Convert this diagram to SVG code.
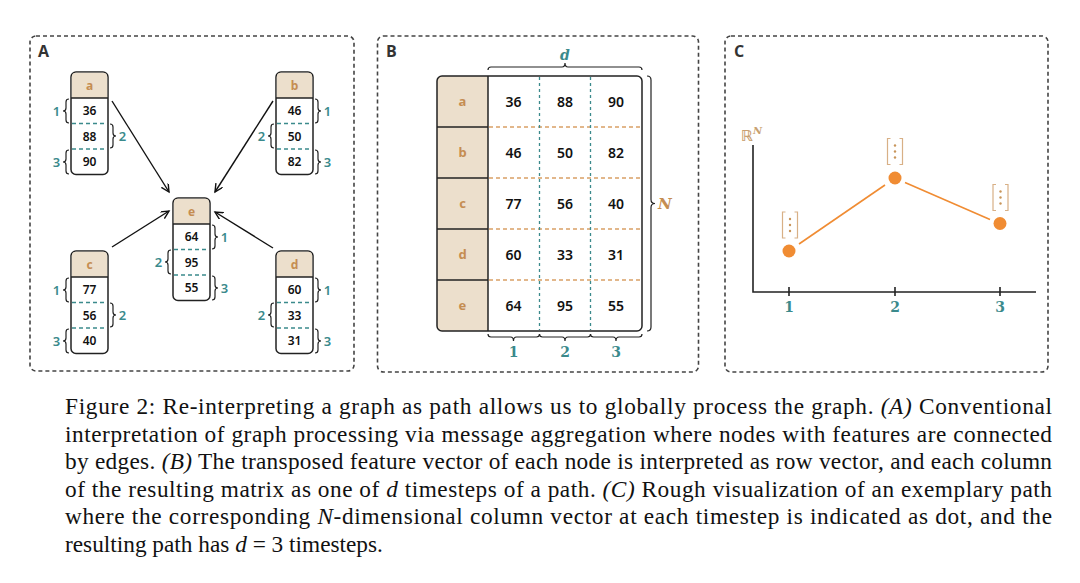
<svg xmlns="http://www.w3.org/2000/svg" width="1080" height="583" viewBox="0 0 1080 583">
<defs>
<style>
.panel{fill:none;stroke:#444;stroke-width:1.6;stroke-dasharray:4 3}
.plabel{font-family:"Open Sans","Liberation Sans",sans-serif;font-weight:700;font-size:16px;fill:#333}
.nbox{fill:#fff;stroke:#222;stroke-width:1.5}
.nhead{fill:#ecdfcc}
.sep{stroke:#222;stroke-width:1.5}
.tdash{stroke:#3b8a8c;stroke-width:1.3;stroke-dasharray:4 3}
.odash{stroke:#d9a066;stroke-width:1.3;stroke-dasharray:4 3}
.tdot{stroke:#3b8a8c;stroke-width:1.3;stroke-dasharray:3 3}
.hl{font-family:"Noto Sans","Open Sans",sans-serif;font-weight:700;font-size:12px;fill:#c58d52;text-anchor:middle}
.num{font-family:"Noto Sans","Open Sans",sans-serif;font-weight:600;font-size:12px;fill:#111;text-anchor:middle}
.mnum{font-family:"Noto Sans","Open Sans",sans-serif;font-weight:600;font-size:14px;fill:#111;text-anchor:middle}
.mhl{font-family:"Noto Sans","Open Sans",sans-serif;font-weight:700;font-size:13px;fill:#c58d52;text-anchor:middle}
.brace{fill:none;stroke:#222;stroke-width:1.2}
.bl{font-family:"Noto Sans","Open Sans",sans-serif;font-weight:600;font-size:13px;fill:#3b8a8c;text-anchor:middle}
.tl{font-family:"DejaVu Serif","Liberation Serif",serif;font-weight:700;font-size:14px;fill:#3b8a8c;text-anchor:middle}
.edge{stroke:#111;stroke-width:1.4;fill:none;marker-end:url(#ah)}
.axis{stroke:#222;stroke-width:1.6;fill:none}
.path{stroke:#f08c33;stroke-width:1.6;fill:none}
.dot{fill:#f08c33}
.vec{fill:none;stroke:#d8b086;stroke-width:1.2}
.vd{fill:#c8955a}
.cap{font-family:"Liberation Serif","Times New Roman",serif;font-size:23.3px;fill:#111}
.it{font-style:italic}
</style>
<marker id="ah" markerWidth="10" markerHeight="10" refX="8" refY="4" orient="auto" markerUnits="userSpaceOnUse">
<path d="M0,0 L8,4 L0,8" fill="none" stroke="#111" stroke-width="1.4"/>
</marker>
<g id="base">
<rect class="nbox" x="0" y="0" width="37" height="102.5" rx="5"/>
<path class="nhead" d="M0.8,26 L0.8,5 Q0.8,0.8 5,0.8 L32,0.8 Q36.2,0.8 36.2,5 L36.2,26 Z"/>
<line class="sep" x1="0" y1="26" x2="37" y2="26"/>
<line class="tdash" x1="1" y1="51.5" x2="36" y2="51.5"/>
<line class="tdash" x1="1" y1="77" x2="36" y2="77"/>
</g>
<path id="bL1" class="brace" d="M-2,27 Q-5,27 -5,30 L-5,36 Q-5,39 -8,39 Q-5,39 -5,42 L-5,48 Q-5,51 -2,51"/>
<path id="bL2" class="brace" d="M-2,52 Q-5,52 -5,55 L-5,61 Q-5,64 -8,64 Q-5,64 -5,67 L-5,73 Q-5,76 -2,76"/>
<path id="bL3" class="brace" d="M-2,78 Q-5,78 -5,81 L-5,87 Q-5,90 -8,90 Q-5,90 -5,93 L-5,99 Q-5,102 -2,102"/>
<path id="bR1" class="brace" d="M39,27 Q42,27 42,30 L42,36 Q42,39 45,39 Q42,39 42,42 L42,48 Q42,51 39,51"/>
<path id="bR2" class="brace" d="M39,52 Q42,52 42,55 L42,61 Q42,64 45,64 Q42,64 42,67 L42,73 Q42,76 39,76"/>
<path id="bR3" class="brace" d="M39,78 Q42,78 42,81 L42,87 Q42,90 45,90 Q42,90 42,93 L42,99 Q42,102 39,102"/>
</defs>
<rect width="1080" height="583" fill="#fff"/>

<g id="panelA">
<rect class="panel" x="30" y="36" width="324" height="335" rx="6"/>
<text class="plabel" x="38" y="57">A</text>
</g>
<g id="panelB">
<rect class="panel" x="377.5" y="36" width="321" height="336" rx="6"/>
<text class="plabel" x="386" y="57">B</text>
</g>
<g id="panelC">
<rect class="panel" x="725" y="36" width="323" height="336" rx="6"/>
<text class="plabel" x="734" y="57">C</text>
</g>

<g id="connectors">
<line class="edge" x1="112" y1="101" x2="169" y2="192"/>
<line class="edge" x1="273" y1="101" x2="215" y2="192"/>
<line class="edge" x1="112" y1="247" x2="169" y2="211"/>
<line class="edge" x1="273" y1="248" x2="215" y2="212"/>
</g>

<g id="node-a" transform="translate(71,72)">
<use href="#base"/>
<text class="hl" x="18.5" y="17.5">a</text>
<text class="num" x="18.5" y="43">36</text><text class="num" x="18.5" y="68.5">88</text><text class="num" x="18.5" y="94">90</text>
<use href="#bL1"/><use href="#bR2"/><use href="#bL3"/>
<text class="bl" x="-14.5" y="43.5">1</text><text class="bl" x="51.5" y="68.5">2</text><text class="bl" x="-14.5" y="94.5">3</text>
</g>
<g id="node-b" transform="translate(276,72)">
<use href="#base"/>
<text class="hl" x="18.5" y="17.5">b</text>
<text class="num" x="18.5" y="43">46</text><text class="num" x="18.5" y="68.5">50</text><text class="num" x="18.5" y="94">82</text>
<use href="#bR1"/><use href="#bL2"/><use href="#bR3"/>
<text class="bl" x="51.5" y="43.5">1</text><text class="bl" x="-14.5" y="68.5">2</text><text class="bl" x="51.5" y="94.5">3</text>
</g>
<g id="node-c" transform="translate(71,251)">
<use href="#base"/>
<text class="hl" x="18.5" y="17.5">c</text>
<text class="num" x="18.5" y="43">77</text><text class="num" x="18.5" y="68.5">56</text><text class="num" x="18.5" y="94">40</text>
<use href="#bL1"/><use href="#bR2"/><use href="#bL3"/>
<text class="bl" x="-14.5" y="43.5">1</text><text class="bl" x="51.5" y="68.5">2</text><text class="bl" x="-14.5" y="94.5">3</text>
</g>
<g id="node-e" transform="translate(173,198)">
<use href="#base"/>
<text class="hl" x="18.5" y="17.5">e</text>
<text class="num" x="18.5" y="43">64</text><text class="num" x="18.5" y="68.5">95</text><text class="num" x="18.5" y="94">55</text>
<use href="#bR1"/><use href="#bL2"/><use href="#bR3"/>
<text class="bl" x="51.5" y="43.5">1</text><text class="bl" x="-14.5" y="68.5">2</text><text class="bl" x="51.5" y="94.5">3</text>
</g>
<g id="node-d" transform="translate(276,251)">
<use href="#base"/>
<text class="hl" x="18.5" y="17.5">d</text>
<text class="num" x="18.5" y="43">60</text><text class="num" x="18.5" y="68.5">33</text><text class="num" x="18.5" y="94">31</text>
<use href="#bR1"/><use href="#bL2"/><use href="#bR3"/>
<text class="bl" x="51.5" y="43.5">1</text><text class="bl" x="-14.5" y="68.5">2</text><text class="bl" x="51.5" y="94.5">3</text>
</g>

<g id="matrix">
<rect x="437" y="76" width="205" height="255" rx="5" fill="#fff"/>
<path class="nhead" d="M488,76 L442,76 Q437,76 437,81 L437,326 Q437,331 442,331 L488,331 Z"/>
<line class="odash" x1="489" y1="127" x2="641" y2="127"/>
<line class="odash" x1="489" y1="178" x2="641" y2="178"/>
<line class="odash" x1="489" y1="229" x2="641" y2="229"/>
<line class="odash" x1="489" y1="280" x2="641" y2="280"/>
<line class="tdot" x1="539.5" y1="77" x2="539.5" y2="330"/>
<line class="tdot" x1="590.5" y1="77" x2="590.5" y2="330"/>
<line class="sep" x1="437" y1="127" x2="488" y2="127"/>
<line class="sep" x1="437" y1="178" x2="488" y2="178"/>
<line class="sep" x1="437" y1="229" x2="488" y2="229"/>
<line class="sep" x1="437" y1="280" x2="488" y2="280"/>
<line class="sep" x1="488" y1="76" x2="488" y2="331"/>
<rect x="437" y="76" width="205" height="255" rx="5" fill="none" stroke="#222" stroke-width="1.5"/>
<text class="mhl" x="462.5" y="106">a</text>
<text class="mhl" x="462.5" y="157">b</text>
<text class="mhl" x="462.5" y="208">c</text>
<text class="mhl" x="462.5" y="259">d</text>
<text class="mhl" x="462.5" y="310">e</text>
<text class="mnum" x="513.5" y="106.5">36</text><text class="mnum" x="565" y="106.5">88</text><text class="mnum" x="616" y="106.5">90</text>
<text class="mnum" x="513.5" y="157.5">46</text><text class="mnum" x="565" y="157.5">50</text><text class="mnum" x="616" y="157.5">82</text>
<text class="mnum" x="513.5" y="208.5">77</text><text class="mnum" x="565" y="208.5">56</text><text class="mnum" x="616" y="208.5">40</text>
<text class="mnum" x="513.5" y="259.5">60</text><text class="mnum" x="565" y="259.5">33</text><text class="mnum" x="616" y="259.5">31</text>
<text class="mnum" x="513.5" y="310.5">64</text><text class="mnum" x="565" y="310.5">95</text><text class="mnum" x="616" y="310.5">55</text>
<path class="brace" d="M488,70 Q488,67 491,67 L562,67 Q565,67 565,63 Q565,67 568,67 L639,67 Q642,67 642,70"/>
<text x="565" y="60" font-family="DejaVu Serif,Liberation Serif,serif" font-style="italic" font-weight="700" font-size="14" fill="#3b8a8c" text-anchor="middle">d</text>
<path class="brace" d="M647,76 Q651,76 651,80 L651,199.5 Q651,203.5 655,203.5 Q651,203.5 651,207.5 L651,327 Q651,331 647,331"/>
<text x="658" y="209" font-family="DejaVu Serif,Liberation Serif,serif" font-style="italic" font-weight="700" font-size="15" fill="#c58d52">N</text>
<path class="brace" d="M488,334 Q488,337 491,337 L510.5,337 Q513.5,337 513.5,341 Q513.5,337 516.5,337 L536.5,337 Q539.5,337 539.5,334"/>
<path class="brace" d="M539.5,334 Q539.5,337 542.5,337 L562,337 Q565,337 565,341 Q565,337 568,337 L587.5,337 Q590.5,337 590.5,334"/>
<path class="brace" d="M590.5,334 Q590.5,337 593.5,337 L613,337 Q616,337 616,341 Q616,337 619,337 L639,337 Q642,337 642,334"/>
<text class="tl" x="513.5" y="357">1</text>
<text class="tl" x="565" y="357">2</text>
<text class="tl" x="616" y="357">3</text>
</g>

<g id="plot">
<path class="axis" d="M753,145 L753,292 L1036,292"/>
<line class="axis" x1="789" y1="287" x2="789" y2="296"/>
<line class="axis" x1="895" y1="287" x2="895" y2="296"/>
<line class="axis" x1="1000" y1="287" x2="1000" y2="296"/>
<text class="tl" x="789" y="312">1</text>
<text class="tl" x="895" y="312">2</text>
<text class="tl" x="1000" y="312">3</text>
<text x="741" y="141" font-family="DejaVu Sans,sans-serif" font-weight="700" font-size="15" fill="#c8a070">ℝ<tspan font-family="DejaVu Serif,serif" font-style="italic" font-weight="700" font-size="10" dy="-7">N</tspan></text>
<line class="path" x1="799" y1="244" x2="885" y2="185"/>
<line class="path" x1="905" y1="182.5" x2="990" y2="219.5"/>
<circle class="dot" cx="789" cy="251" r="6.5"/>
<circle class="dot" cx="895" cy="178" r="6.5"/>
<circle class="dot" cx="1000" cy="223.5" r="6.5"/>
<path class="vec" d="M785.5,212 L782.5,212 L782.5,238 L785.5,238 M794.5,212 L797.5,212 L797.5,238 L794.5,238"/>
<circle class="vd" cx="790" cy="219" r="1.2"/><circle class="vd" cx="790" cy="225" r="1.2"/><circle class="vd" cx="790" cy="231" r="1.2"/>
<path class="vec" d="M890.5,138.5 L887.5,138.5 L887.5,164.5 L890.5,164.5 M899.5,138.5 L902.5,138.5 L902.5,164.5 L899.5,164.5"/>
<circle class="vd" cx="895" cy="145.5" r="1.2"/><circle class="vd" cx="895" cy="151.5" r="1.2"/><circle class="vd" cx="895" cy="157.5" r="1.2"/>
<path class="vec" d="M996,184.5 L993,184.5 L993,210.5 L996,210.5 M1005,184.5 L1008,184.5 L1008,210.5 L1005,210.5"/>
<circle class="vd" cx="1000.5" cy="191.5" r="1.2"/><circle class="vd" cx="1000.5" cy="197.5" r="1.2"/><circle class="vd" cx="1000.5" cy="203.5" r="1.2"/>
</g>

<g id="caption">
<text class="cap" x="65" y="414" textLength="987" lengthAdjust="spacing">Figure 2:  Re-interpreting a graph as path allows us to globally process the graph. <tspan class="it">(A)</tspan> Conventional</text>
<text class="cap" x="65" y="441.5" textLength="987" lengthAdjust="spacing">interpretation of graph processing via message aggregation where nodes with features are connected</text>
<text class="cap" x="65" y="469" textLength="987" lengthAdjust="spacing">by edges. <tspan class="it">(B)</tspan> The transposed feature vector of each node is interpreted as row vector, and each column</text>
<text class="cap" x="65" y="496.5" textLength="987" lengthAdjust="spacing">of the resulting matrix as one of <tspan class="it">d</tspan> timesteps of a path. <tspan class="it">(C)</tspan> Rough visualization of an exemplary path</text>
<text class="cap" x="65" y="524" textLength="987" lengthAdjust="spacing">where the corresponding <tspan class="it">N</tspan>-dimensional column vector at each timestep is indicated as dot, and the</text>
<text class="cap" x="65" y="551.5">resulting path has <tspan class="it">d</tspan> = 3 timesteps.</text>
</g>
</svg>
